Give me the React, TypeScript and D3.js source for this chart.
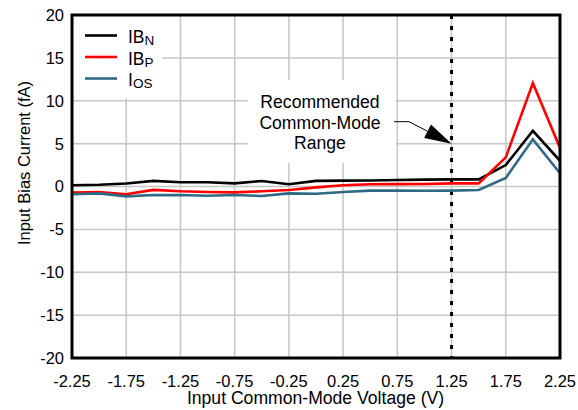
import React from "react";
import * as d3 from "d3";

const xValues = [-2.25, -2.0, -1.75, -1.5, -1.25, -1.0, -0.75, -0.5, -0.25, 0, 0.25, 0.5, 0.75, 1.0, 1.25, 1.5, 1.75, 2.0, 2.25];
const ibN = [0.15, 0.2, 0.35, 0.65, 0.5, 0.5, 0.37, 0.64, 0.26, 0.66, 0.68, 0.7, 0.75, 0.8, 0.83, 0.83, 2.5, 6.5, 3.0];
const ibP = [-0.72, -0.65, -0.9, -0.4, -0.56, -0.64, -0.68, -0.56, -0.4, -0.1, 0.14, 0.26, 0.28, 0.3, 0.37, 0.37, 3.4, 12.05, 4.5];
const iOS = [-0.9, -0.8, -1.15, -1.0, -1.0, -1.07, -1.0, -1.1, -0.8, -0.85, -0.64, -0.48, -0.48, -0.5, -0.48, -0.4, 1.0, 5.5, 1.55];
const xTicks = [-2.25, -1.75, -1.25, -0.75, -0.25, 0.25, 0.75, 1.25, 1.75, 2.25];
const yTicks = [-20, -15, -10, -5, 0, 5, 10, 15, 20];
const seriesNames = [["IB", "N"], ["IB", "P"], ["I", "OS"]];
const seriesColors = ["#000000", "#ff0000", "#2f6a85"];
const annotationLines = ["Recommended", "Common-Mode", "Range"];
const markerX = 1.25;
const markerY = 5;

const FONT = "'Liberation Sans', Arial, sans-serif";

export default function App() {
  const L = 72, R = 560, T = 15, B = 358;
  const x = d3.scaleLinear().domain([-2.25, 2.25]).range([L, R]);
  const y = d3.scaleLinear().domain([-20, 20]).range([B, T]);
  const series = [ibN, ibP, iOS];
  const line = d3.line<number>().x((_, i) => x(xValues[i])).y((d) => y(d));

  const tipX = x(markerX), tipY = y(markerY);
  const ax0 = 394, ay0 = 121.7, ax1 = 409, ay1 = 121.7;
  const dx = tipX - ax1, dy = tipY - ay1;
  const len = Math.sqrt(dx * dx + dy * dy);
  const ux = dx / len, uy = dy / len;
  const headLen = 27, headW = 7.5;
  const bx = tipX - ux * headLen, by = tipY - uy * headLen;
  const px = -uy, py = ux;

  return (
    <svg width={578} height={410} style={{ position: "fixed", left: 0, top: 0, background: "#fff" }} fontFamily={FONT}>
      <rect x={0} y={0} width={578} height={410} fill="#fff" />
      <defs>
        <clipPath id="plot">
          <rect x={L} y={T} width={R - L} height={B - T} />
        </clipPath>
      </defs>
      {xTicks.map((t) => (
        <line key={"gx" + t} x1={x(t)} x2={x(t)} y1={T} y2={B} stroke="#c6c6c6" strokeWidth={1.5} />
      ))}
      {yTicks.map((t) => (
        <line key={"gy" + t} x1={L} x2={R} y1={y(t)} y2={y(t)} stroke="#c6c6c6" strokeWidth={1.5} />
      ))}
      <rect x={L} y={T} width={90} height={83} fill="#fff" />
      <rect x={248} y={80} width={148} height={83} fill="#fff" />
      <line x1={x(markerX)} x2={x(markerX)} y1={T} y2={B} stroke="#000" strokeWidth={3} strokeDasharray="4 7" />
      <g clipPath="url(#plot)">
        {series.map((s, i) => (
          <path key={i} d={line(s) || ""} fill="none" stroke={seriesColors[i]} strokeWidth={2.6} strokeLinejoin="miter" />
        ))}
      </g>
      <rect x={L} y={T} width={R - L} height={B - T} fill="none" stroke="#000" strokeWidth={3} />
      {yTicks.map((t) => (
        <text key={"ty" + t} x={64} y={y(t)} dy="0.36em" textAnchor="end" fontSize={16.5} fill="#000">
          {t}
        </text>
      ))}
      {xTicks.map((t) => (
        <text key={"tx" + t} x={x(t)} y={386.5} textAnchor="middle" fontSize={16.5} fill="#000">
          {t.toFixed(2)}
        </text>
      ))}
      <text x={315.5} y={404.3} textAnchor="middle" fontSize={17.6} fill="#000">
        Input Common-Mode Voltage (V)
      </text>
      <text transform="translate(30,163) rotate(-90)" textAnchor="middle" fontSize={16.5} fill="#000">
        Input Bias Current (fA)
      </text>
      {seriesNames.map((n, i) => {
        const ly = 35.5 + i * 21.5;
        return (
          <g key={"lg" + i}>
            <line x1={85} x2={117} y1={ly} y2={ly} stroke={seriesColors[i]} strokeWidth={2.6} />
            <text x={128} y={ly + 7.8} fontSize={17.5} fill="#000">
              {n[0]}
              <tspan fontSize={13.5} dy={2}>{n[1]}</tspan>
            </text>
          </g>
        );
      })}
      {annotationLines.map((t, i) => (
        <text key={"an" + i} x={320} y={108.3 + i * 20.3} textAnchor="middle" fontSize={17.6} fill="#000">
          {t}
        </text>
      ))}
      <polyline points={`${ax0},${ay0} ${ax1},${ay1} ${bx},${by}`} fill="none" stroke="#000" strokeWidth={1} />
      <polygon
        points={`${tipX},${tipY} ${bx + px * headW},${by + py * headW} ${bx - px * headW},${by - py * headW}`}
        fill="#000"
      />
    </svg>
  );
}
